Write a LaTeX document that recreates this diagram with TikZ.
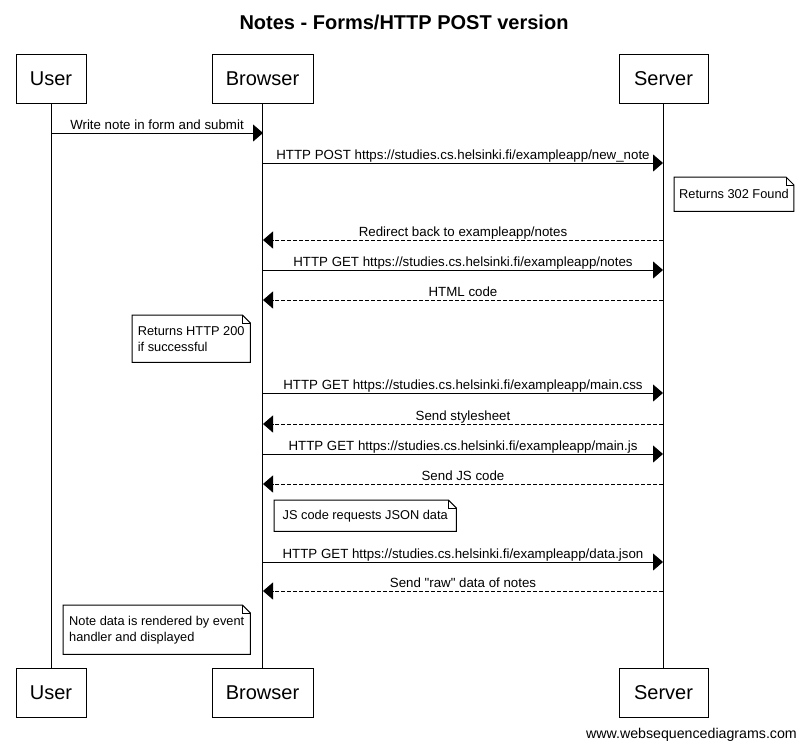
\documentclass[tikz,border=0pt]{standalone}
\usepackage{fontspec}
\setmainfont{Liberation Sans}
% same family without TeX ligature mapping, so " stays a straight quote
\newfontfamily\plainquotes{Liberation Sans}
\usetikzlibrary{arrows.meta}

% folded-corner outline around a note node
\newcommand\dogear[1]{%
  \draw[line width=1pt] (#1.north west) -- ([xshift=-8pt]#1.north east)
    -- ([yshift=-8pt]#1.north east) -- (#1.south east) -- (#1.south west) -- cycle;
  \draw[line width=0.5pt] ([xshift=-8pt]#1.north east) -- ([xshift=-8pt,yshift=-8pt]#1.north east)
    -- ([yshift=-8pt]#1.north east);}

\begin{document}
\begin{tikzpicture}[x=1pt,y=-1pt,
  actor/.style={draw, line width=1pt, minimum height=49pt, inner sep=0pt,
    font=\fontsize{20}{24}\selectfont},
  lifeline/.style={line width=1pt},
  msg/.style={line width=1pt, -{Triangle[length=10pt,width=17pt]}},
  reply/.style={msg, dash pattern=on 4pt off 2pt},
  lbl/.style={font=\fontsize{13.3}{15}\selectfont, inner sep=0pt, anchor=base, pos=0.5, yshift=3.5pt},
  note/.style={align=left, anchor=north west, inner xsep=5pt, inner ysep=0pt,
    font=\fontsize{12.8}{16}\selectfont}]

\useasboundingbox (0,0) rectangle (805,750);

% title
\node[font=\bfseries\fontsize{20}{24}\selectfont] (title) at (404,22) {Notes - Forms/HTTP POST version};

% participants, top and bottom
\node[actor, minimum width=70pt]  (uT) at (51,78.5)  {User};
\node[actor, minimum width=101pt] (bT) at (262.5,78.5) {Browser};
\node[actor, minimum width=89pt]  (sT) at (663.5,78.5) {Server};
\node[actor, minimum width=70pt]  (uB) at (51,692.5)  {User};
\node[actor, minimum width=101pt] (bB) at (262.5,692.5) {Browser};
\node[actor, minimum width=89pt]  (sB) at (663.5,692.5) {Server};

% lifelines
\draw[lifeline] (uT) -- (uB);
\draw[lifeline] (bT) -- (bB);
\draw[lifeline] (sT) -- (sB);

% message end points on the lifelines
\foreach \n/\y in {1/133,2/163,4/240,5/270,6/300,8/393,9/424,10/454,11/484,13/562,14/591}{
  \coordinate (u\n) at (51,\y);
  \coordinate (b\n) at (263,\y);
  \coordinate (s\n) at (663,\y);
}

\draw[msg] (u1) -- (b1) node[lbl] {Write note in form and submit};
\draw[msg] (b2) -- (s2) node[lbl] {HTTP POST https://studies.cs.helsinki.fi/exampleapp/new\_note};

\node[note, minimum width=119pt, minimum height=34pt] (n1) at (674,177) {Returns 302 Found};
\dogear{n1}

\draw[reply] (s4) -- (b4) node[lbl] {Redirect back to exampleapp/notes};
\draw[msg] (b5) -- (s5) node[lbl] {HTTP GET https://studies.cs.helsinki.fi/exampleapp/notes};
\draw[reply] (s6) -- (b6) node[lbl] {HTML code};

\node[note, minimum width=118pt, minimum height=47pt] (n2) at (132,315) {Returns HTTP 200\\if successful};
\dogear{n2}

\draw[msg] (b8) -- (s8) node[lbl] {HTTP GET https://studies.cs.helsinki.fi/exampleapp/main.css};
\draw[reply] (s9) -- (b9) node[lbl] {Send stylesheet};
\draw[msg] (b10) -- (s10) node[lbl] {HTTP GET https://studies.cs.helsinki.fi/exampleapp/main.js};
\draw[reply] (s11) -- (b11) node[lbl] {Send JS code};

\node[note, minimum width=182pt, minimum height=31pt] (n3) at (274,500) {JS code requests JSON data};
\dogear{n3}

\draw[msg] (b13) -- (s13) node[lbl] {HTTP GET https://studies.cs.helsinki.fi/exampleapp/data.json};
\draw[reply] (s14) -- (b14) node[lbl] {\plainquotes Send "raw" data of notes};

\node[note, minimum width=187pt, minimum height=49pt] (n4) at (63,605) {Note data is rendered by event\\handler and displayed};
\dogear{n4}

% footer
\node[font=\fontsize{14.2}{17}\selectfont, anchor=east, inner sep=0pt] (footer) at (797,735) {www.websequencediagrams.com};
\end{tikzpicture}
\end{document}
